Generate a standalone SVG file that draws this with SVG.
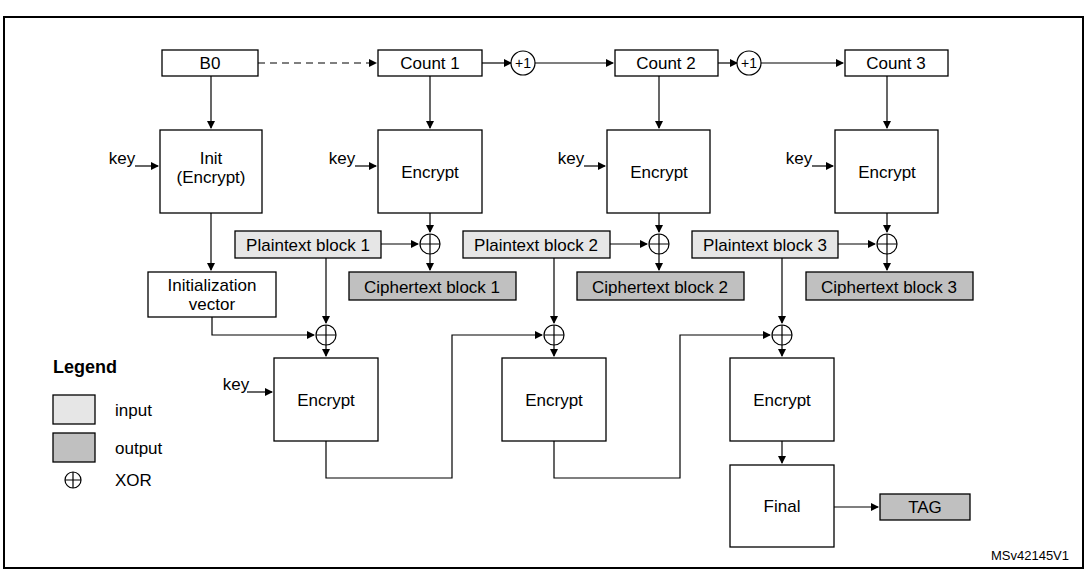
<svg xmlns="http://www.w3.org/2000/svg" width="1087" height="571" viewBox="0 0 1087 571">
<style>
text{font-family:"Liberation Sans",Arial,sans-serif;font-size:17px;fill:#000;text-anchor:middle}
.b{fill:#fff;stroke:#000;stroke-width:1.3}
.in{fill:#e6e6e6;stroke:#000;stroke-width:1.3}
.out{fill:#c0c0c0;stroke:#000;stroke-width:1.3}
.l{fill:none;stroke:#000;stroke-width:1.2}
.x{fill:#fff;stroke:#000;stroke-width:1.2}
</style>
<defs><marker id="a" markerWidth="8" markerHeight="8" refX="7" refY="4" orient="auto" markerUnits="userSpaceOnUse"><path d="M0,0L8,4L0,8z"/></marker></defs>
<rect x="4" y="17" width="1079" height="551" fill="#fff" stroke="#000" stroke-width="2"/>
<g id="connectors">
<path class="l" d="M258,63H376" stroke-dasharray="7,5" marker-end="url(#a)"/>
<path class="l" d="M482,63H511" marker-end="url(#a)"/>
<path class="l" d="M535,63H613" marker-end="url(#a)"/>
<path class="l" d="M718,63H737" marker-end="url(#a)"/>
<path class="l" d="M761,63H843" marker-end="url(#a)"/>
<path class="l" d="M211,76V128" marker-end="url(#a)"/>
<path class="l" d="M430,76V128" marker-end="url(#a)"/>
<path class="l" d="M659,76V128" marker-end="url(#a)"/>
<path class="l" d="M887,76V128" marker-end="url(#a)"/>
<path class="l" d="M135,166H158" marker-end="url(#a)"/>
<path class="l" d="M355,166H376" marker-end="url(#a)"/>
<path class="l" d="M584,166H605" marker-end="url(#a)"/>
<path class="l" d="M812,166H833" marker-end="url(#a)"/>
<path class="l" d="M247,392H272" marker-end="url(#a)"/>
<path class="l" d="M211,213V270" marker-end="url(#a)"/>
<path class="l" d="M430,213V232" marker-end="url(#a)"/>
<path class="l" d="M659,213V232" marker-end="url(#a)"/>
<path class="l" d="M887,213V232" marker-end="url(#a)"/>
<path class="l" d="M381,244H418" marker-end="url(#a)"/>
<path class="l" d="M610,244H647" marker-end="url(#a)"/>
<path class="l" d="M838,244H875" marker-end="url(#a)"/>
<path class="l" d="M430,254V270" marker-end="url(#a)"/>
<path class="l" d="M659,254V270" marker-end="url(#a)"/>
<path class="l" d="M887,254V270" marker-end="url(#a)"/>
<path class="l" d="M326,258V323" marker-end="url(#a)"/>
<path class="l" d="M554,258V323" marker-end="url(#a)"/>
<path class="l" d="M782,258V323" marker-end="url(#a)"/>
<path class="l" d="M212,317V335H314" marker-end="url(#a)"/>
<path class="l" d="M326,441V478H452V335H542" marker-end="url(#a)"/>
<path class="l" d="M554,441V478H680V335H770" marker-end="url(#a)"/>
<path class="l" d="M326,345V356" marker-end="url(#a)"/>
<path class="l" d="M554,345V356" marker-end="url(#a)"/>
<path class="l" d="M782,345V356" marker-end="url(#a)"/>
<path class="l" d="M782,441V463" marker-end="url(#a)"/>
<path class="l" d="M834,507H878" marker-end="url(#a)"/>
</g>
<g id="b0"><rect class="b" x="162" y="50" width="96" height="26"/><text x="210" y="69">B0</text></g>
<g id="count1"><rect class="b" x="378" y="50" width="104" height="26"/><text x="430" y="69">Count 1</text></g>
<g id="inc1"><circle class="x" cx="523" cy="63" r="12"/><text x="523" y="68" style="font-size:14px">+1</text></g>
<g id="count2"><rect class="b" x="615" y="50" width="103" height="26"/><text x="666" y="69">Count 2</text></g>
<g id="inc2"><circle class="x" cx="749" cy="63" r="12"/><text x="749" y="68" style="font-size:14px">+1</text></g>
<g id="count3"><rect class="b" x="845" y="50" width="103" height="26"/><text x="896" y="69">Count 3</text></g>
<g id="init"><rect class="b" x="160" y="130" width="102" height="83"/><text x="211" y="164">Init</text><text x="211" y="183">(Encrypt)</text><text x="122" y="164">key</text></g>
<g id="enc1"><rect class="b" x="378" y="130" width="104" height="83"/><text x="430" y="178">Encrypt</text><text x="342" y="164">key</text></g>
<g id="enc2"><rect class="b" x="607" y="130" width="103" height="83"/><text x="659" y="178">Encrypt</text><text x="571" y="164">key</text></g>
<g id="enc3"><rect class="b" x="835" y="130" width="103" height="83"/><text x="887" y="178">Encrypt</text><text x="799" y="164">key</text></g>
<g id="pt1"><rect class="in" x="235" y="231" width="146" height="27"/><text x="308" y="251">Plaintext block 1</text></g>
<g id="pt2"><rect class="in" x="463" y="231" width="147" height="27"/><text x="536" y="251">Plaintext block 2</text></g>
<g id="pt3"><rect class="in" x="692" y="231" width="146" height="27"/><text x="765" y="251">Plaintext block 3</text></g>
<g id="xor1"><circle class="x" cx="430" cy="244" r="10"/><path class="l" d="M420,244H440M430,234V254"/></g>
<g id="xor2"><circle class="x" cx="659" cy="244" r="10"/><path class="l" d="M649,244H669M659,234V254"/></g>
<g id="xor3"><circle class="x" cx="887" cy="244" r="10"/><path class="l" d="M877,244H897M887,234V254"/></g>
<g id="ct1"><rect class="out" x="349" y="272" width="167" height="28"/><text x="432" y="293">Ciphertext block 1</text></g>
<g id="ct2"><rect class="out" x="577" y="272" width="167" height="28"/><text x="660" y="293">Ciphertext block 2</text></g>
<g id="ct3"><rect class="out" x="806" y="272" width="167" height="28"/><text x="889" y="293">Ciphertext block 3</text></g>
<g id="iv"><rect class="b" x="148" y="272" width="128" height="45"/><text x="212" y="291">Initialization</text><text x="212" y="310">vector</text></g>
<g id="xor4"><circle class="x" cx="326" cy="335" r="10"/><path class="l" d="M316,335H336M326,325V345"/></g>
<g id="xor5"><circle class="x" cx="554" cy="335" r="10"/><path class="l" d="M544,335H564M554,325V345"/></g>
<g id="xor6"><circle class="x" cx="782" cy="335" r="10"/><path class="l" d="M772,335H792M782,325V345"/></g>
<g id="enc4"><rect class="b" x="274" y="358" width="104" height="83"/><text x="326" y="406">Encrypt</text><text x="236" y="390">key</text></g>
<g id="enc5"><rect class="b" x="502" y="358" width="104" height="83"/><text x="554" y="406">Encrypt</text></g>
<g id="enc6"><rect class="b" x="730" y="358" width="104" height="83"/><text x="782" y="406">Encrypt</text></g>
<g id="final"><rect class="b" x="730" y="465" width="104" height="82"/><text x="782" y="512">Final</text></g>
<g id="tag"><rect class="out" x="880" y="494" width="90" height="26"/><text x="925" y="513">TAG</text></g>
<g id="legend">
<text x="53" y="373" style="text-anchor:start;font-weight:bold;font-size:18px">Legend</text>
<rect class="in" x="53" y="395" width="42" height="29"/><text x="115" y="416" style="text-anchor:start">input</text>
<rect class="out" x="53" y="433" width="42" height="29"/><text x="115" y="454" style="text-anchor:start">output</text>
<circle class="x" cx="73" cy="480" r="8"/><path class="l" d="M65,480H81M73,472V488"/><text x="115" y="486" style="text-anchor:start">XOR</text>
</g>
<text x="1030" y="560" style="font-size:13px">MSv42145V1</text>
</svg>
